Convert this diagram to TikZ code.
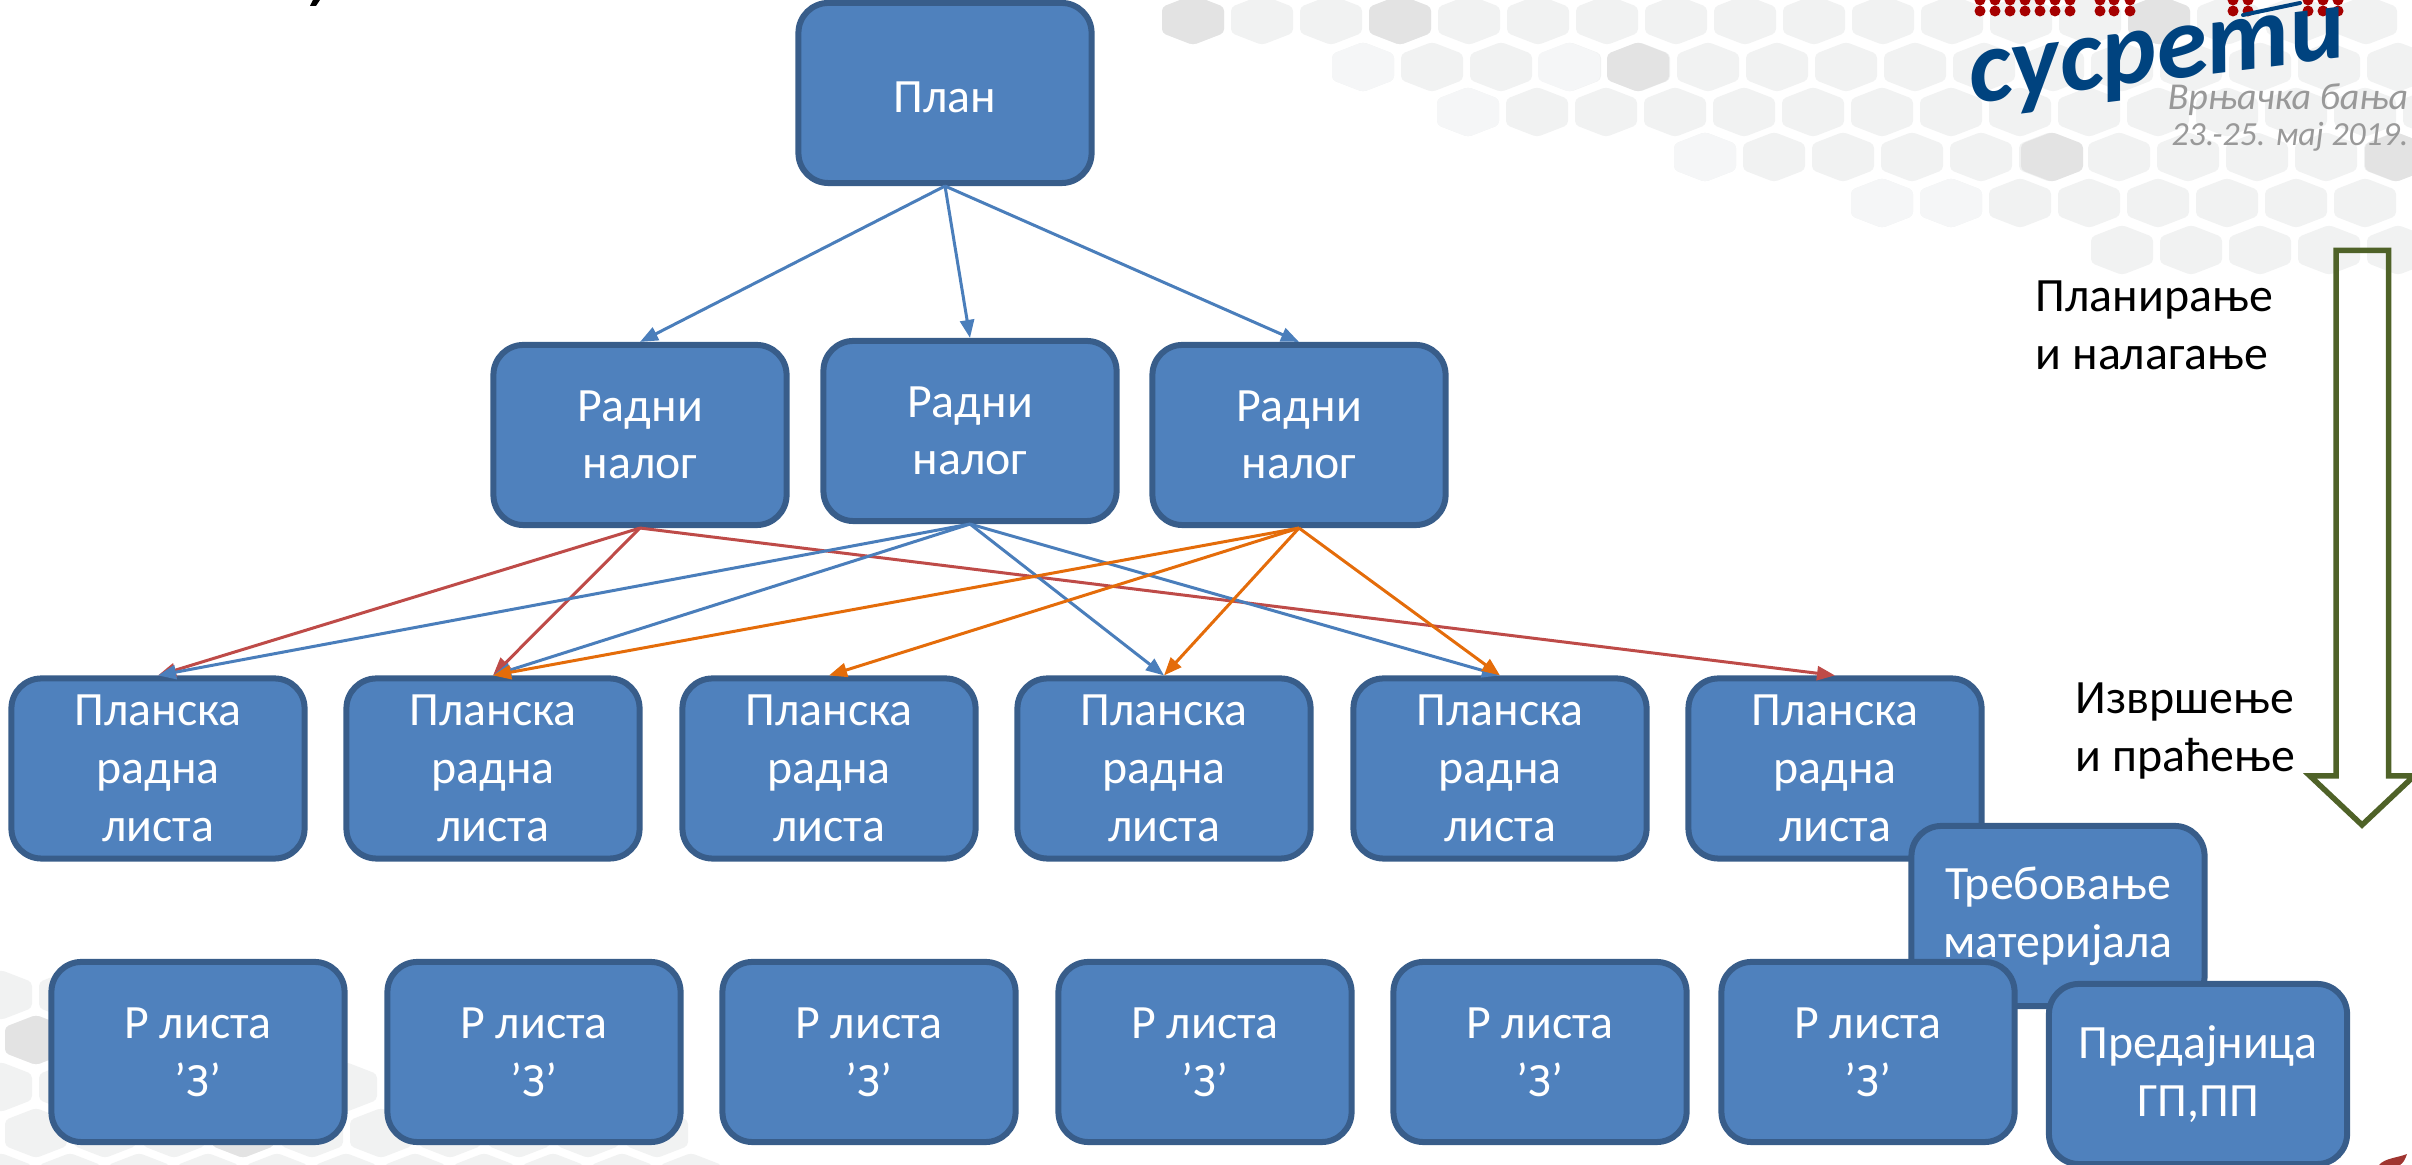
\documentclass[tikz,border=0pt]{standalone}
\usepackage{fontspec}
\setmainfont{Carlito}
\newfontfamily\logofont[Script=Cyrillic]{Carlito}
\usetikzlibrary{arrows.meta}
\definecolor{boxfill}{HTML}{4F81BD}
\definecolor{boxline}{HTML}{385D8A}
\definecolor{linkblue}{HTML}{4A7EBB}
\definecolor{linkred}{HTML}{BE4B48}
\definecolor{linkorange}{HTML}{E46C0A}
\definecolor{flowgreen}{HTML}{4F6228}
\definecolor{hexfill}{HTML}{F1F2F2}
\definecolor{hexdark}{HTML}{E3E3E3}
\definecolor{hexlight}{HTML}{F5F6F7}
\definecolor{logoblue}{HTML}{00437F}
\definecolor{logored}{HTML}{A50000}
\definecolor{logogray}{HTML}{999999}
\definecolor{leafred}{HTML}{A03530}
\tikzset{
  blok/.style={draw=boxline,fill=boxfill,line width=.06cm,rounded corners=.3cm,
    minimum width=2.93cm,minimum height=1.80cm,inner sep=0pt,align=center,text=white,
    font=\fontsize{13.6}{16.4}\selectfont,execute at begin node={\rule{0pt}{11pt}}},
  blokniz/.style={blok,execute at begin node={\rule{0pt}{13pt}}},
  veza/.style={line width=.03cm,-{Triangle[length=.18cm,width=.14cm]}},
  plava/.style={veza,draw=linkblue},
  crvena/.style={veza,draw=linkred},
  narandzasta/.style={veza,draw=linkorange},
  opis/.style={align=left,anchor=north west,inner sep=0pt,font=\fontsize{13.6}{16.4}\selectfont},
}
\newcommand{\saca}[3][hexfill]{\fill[#1,rounded corners=.04cm] (#2,#3-25) -- (#2+31,#3-13) -- (#2+31,#3+13) -- (#2,#3+25) -- (#2-31,#3+13) -- (#2-31,#3-13) -- cycle;}
\begin{document}
\begin{tikzpicture}[x=.01cm,y=-.01cm]
\useasboundingbox (0,0) rectangle (2412,1165);
\clip (0,0) rectangle (2412,1165);
% pozadina
\foreach \kol in {0,...,17} {\saca{1193+69*\kol}{20}}
\foreach \kol in {0,...,15} {\saca{1363+69*\kol}{67}}
\foreach \kol in {0,...,14} {\saca{1468+69*\kol}{112}}
\foreach \kol in {0,...,10} {\saca{1705+69*\kol}{157}}
\foreach \kol in {0,...,7} {\saca{1882+69*\kol}{203}}
\foreach \kol in {0,...,4} {\saca{2122+69*\kol}{250}}
\saca[hexdark]{1193}{20} \saca[hexdark]{1400}{20} \saca[hexdark]{2159}{20}
\saca[hexdark]{1638}{67} \saca[hexdark]{2052}{157} \saca[hexdark]{2396}{157}
\saca[hexlight]{1363}{67} \saca[hexlight]{1569}{67} \saca[hexlight]{1468}{112}
\saca[hexlight]{1705}{157} \saca[hexlight]{1882}{203} \saca[hexlight]{1951}{203}
\foreach \kol in {0,1} {\saca{1+69*\kol}{995}}
\foreach \kol in {0,...,3} {\saca{36+69*\kol}{1040}}
\foreach \kol in {0,...,5} {\saca{1+69*\kol}{1087}}
\foreach \kol in {0,...,9} {\saca{36+69*\kol}{1133}}
\foreach \kol in {0,...,10} {\saca{1+69*\kol}{1178}}
\saca[hexdark]{36}{1040} \saca[hexdark]{243}{1133}
% znak
\foreach \red in {0,11}
  \foreach \kol in {1980,1995,2010,2025,2040,2055,2070,2100,2114,2130,2233,2248,2308,2323,2338}
    {\fill[logored] (\kol,11-\red) circle (.055cm);}
\node[rotate=7,text=logoblue,inner sep=0pt] (znak) at (2158,63) {\logofont\bfseries\itshape\fontsize{29.5}{29.5}\selectfont сусрети};
\coordinate (crtaA) at (2243,15);
\coordinate (crtaB) at (2300,3);
\draw[logoblue,line width=.04cm,line cap=round] (crtaA) -- (crtaB);
\node[text=logogray,inner sep=0pt] (banja) at (2288,100) {\logofont\itshape\fontsize{10.8}{10.8}\selectfont Врњачка бања};
\node[text=logogray,inner sep=0pt] (datum) at (2290,137) {\logofont\itshape\fontsize{9.6}{9.6}\selectfont 23.-25. мај 2019.};
\fill[black] (310,6) -- (316,6) -- (320,0) -- (313,0) -- cycle;
\fill[leafred] (2379,1165) .. controls (2385,1158) and (2397,1158) .. (2407,1154) .. controls (2405,1160) and (2403,1163) .. (2400,1165) -- cycle;
% blokovi
\node[blok] (plan) at (945,93) {План};
\node[blok] (nalog1) at (640,435) {Радни\\налог};
\node[blok] (nalog2) at (970,431) {Радни\\налог};
\node[blok] (nalog3) at (1299,435) {Радни\\налог};
\foreach \x [count=\i] in {158,493,829,1164,1500,1835}
  {\node[blokniz] (lista\i) at (\x,768.5) {Планска\\радна\\листа};}
\node[blok] (treb) at (2058,916) {Требовање\\материјала};
\foreach \x [count=\i] in {198,534,869,1205,1540,1868}
  {\node[blok] (rlista\i) at (\x,1052) {Р листа\\’З’};}
\node[blok,minimum width=2.98cm] (pred) at (2198,1074) {Предајница\\ГП,ПП};
% veze
\foreach \n in {nalog1,nalog2,nalog3} {\draw[plava] (plan.south) -- (\n.north);}
\foreach \n in {1,2,6} {\draw[crvena] (nalog1.south) -- (lista\n.north);}
\foreach \n in {1,2,4,5} {\draw[plava] (nalog2.south) -- (lista\n.north);}
\foreach \n in {2,3,4,5} {\draw[narandzasta] (nalog3.south) -- (lista\n.north);}
% strane
\node[opis] (planiranje) at (2035,280) {Планирање\\и налагање};
\node[opis] (izvrsenje) at (2075,682) {Извршење\\и праћење};
\draw[flowgreen,line width=.055cm,miter limit=10] (2336,250.5) -- (2388.5,250.5) -- (2388.5,776) -- (2414,776) -- (2362,825) -- (2310,776) -- (2336,776) -- cycle;
\end{tikzpicture}
\end{document}
